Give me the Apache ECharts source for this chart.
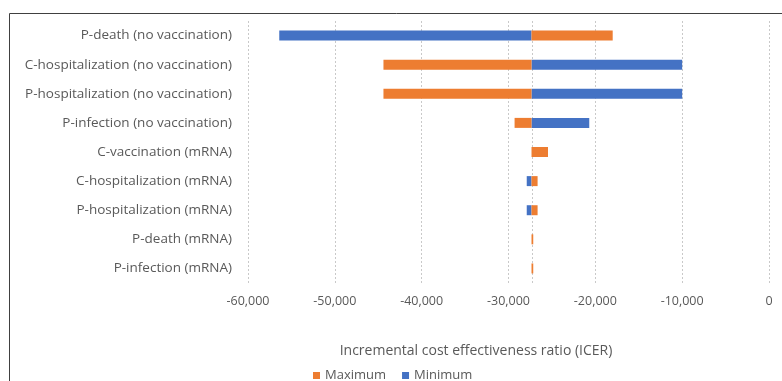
<!DOCTYPE html>
<html lang="en">
<head>
    <meta charset="UTF-8">
    <title>Tornado</title>
    <script src="https://cdn.jsdelivr.net/npm/echarts@6/dist/echarts.min.js"></script>
    <style>
        html, body { margin: 0; padding: 0; background: #fff; }
    </style>
</head>
<body>
    <div id="main" style="width: 782px;height:381px;"></div>
    <script type="text/javascript">
        // categories, top to bottom
        var categories = [
            'P-death (no vaccination)',
            'C-hospitalization (no vaccination)',
            'P-hospitalization (no vaccination)',
            'P-infection (no vaccination)',
            'C-vaccination (mRNA)',
            'C-hospitalization (mRNA)',
            'P-hospitalization (mRNA)',
            'P-death (mRNA)',
            'P-infection (mRNA)'
        ];
        var baseIcer = -27350;
        var maxValues = [-18000, -44400, -44400, -29300, -25450, -26650, -26650, -27150, -27150];
        var minValues = [-56400, -10000, -10000, -20700, -27350, -27900, -27900, -27350, -27350];

        var labelColor = '#595959';
        var font = 'Open Sans';

        function toRanges(vals) {
            var out = [];
            for (var i = 0; i < vals.length; i++) {
                out.push([baseIcer, vals[i], i]);
            }
            return out;
        }

        // bar from base to value inside the category band
        function renderBar(params, api) {
            var a = api.coord([api.value(0), api.value(2)]);
            var b = api.coord([api.value(1), api.value(2)]);
            var h = 10;
            return {
                type: 'rect',
                shape: { x: Math.min(a[0], b[0]), y: a[1] - h / 2, width: Math.abs(b[0] - a[0]), height: h },
                style: api.style()
            };
        }

        // vertical dotted line at the base value
        function renderBase(params, api) {
            var p = api.coord([api.value(0), 0]);
            var cs = params.coordSys;
            var x = Math.round(p[0]) + 0.5;
            return {
                type: 'line',
                shape: { x1: x, y1: cs.y, x2: x, y2: cs.y + cs.height },
                style: { stroke: '#c9c9c9', lineWidth: 1, lineDash: [2, 2] }
            };
        }

        var myChart = echarts.init(document.getElementById('main'));
        var option = {
            animation: false,
            textStyle: { fontFamily: font },
            grid: { left: 248, right: 13, top: 21, bottom: 98 },
            title: {
                text: 'Incremental cost effectiveness ratio (ICER)',
                left: 471, top: 339,
                textAlign: 'center',
                textStyle: { fontSize: 14, fontWeight: 'normal', color: labelColor, fontFamily: font }
            },
            legend: {
                data: ['Maximum', 'Minimum'],
                left: 308, top: 364,
                icon: 'rect', itemWidth: 7, itemHeight: 7, itemGap: 16,
                textStyle: { fontSize: 13, color: labelColor, fontFamily: font }
            },
            xAxis: {
                type: 'value',
                min: -60000, max: 0, interval: 10000,
                axisLine: { show: false },
                axisTick: { show: false },
                axisLabel: {
                    color: labelColor, fontSize: 12.5, margin: 12,
                    formatter: function (v) { return v.toLocaleString('en-US'); }
                },
                splitLine: { lineStyle: { color: '#c9c9c9', type: [2, 2] } }
            },
            yAxis: {
                type: 'category',
                data: categories,
                inverse: true,
                axisLine: { show: false },
                axisTick: { show: false },
                axisLabel: { color: labelColor, fontSize: 13.5, margin: 16 }
            },
            graphic: [{
                type: 'rect',
                shape: { x: 9.5, y: 13.5, width: 900, height: 500 },
                style: { fill: null, stroke: '#404040', lineWidth: 1 },
                silent: true
            }],
            series: [{
                name: 'base',
                type: 'custom',
                renderItem: renderBase,
                encode: { x: 0, y: 1 },
                data: [[baseIcer, 0]],
                silent: true,
                z: 1
            }, {
                name: 'Minimum',
                type: 'custom',
                renderItem: renderBar,
                encode: { x: [0, 1], y: 2 },
                itemStyle: { color: '#4472c4' },
                data: toRanges(minValues),
                z: 3
            }, {
                name: 'Maximum',
                type: 'custom',
                renderItem: renderBar,
                encode: { x: [0, 1], y: 2 },
                itemStyle: { color: '#ed7d31' },
                data: toRanges(maxValues),
                z: 3
            }]
        };
        myChart.setOption(option);
    </script>
</body>
</html>
